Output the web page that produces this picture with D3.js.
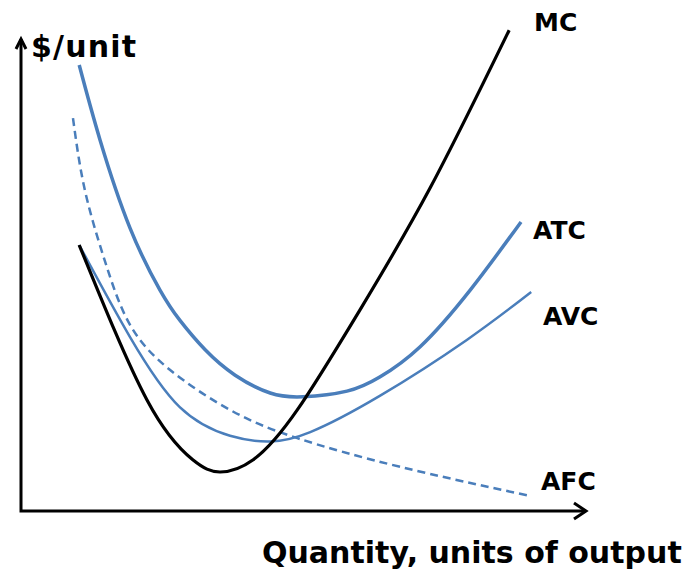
<!DOCTYPE html>
<html>
<head>
<meta charset="utf-8">
<script src="https://cdn.jsdelivr.net/npm/d3@7"></script>
<style>
  html, body { margin: 0; padding: 0; background: #fff; }
  svg { display: block; }
  text { font-family: "DejaVu Sans", Verdana, sans-serif; font-weight: bold; fill: #000; }
</style>
</head>
<body>
<svg id="chart"></svg>
<script>
// cost curves, [quantity, $/unit]
const mc = [[10.3,56.6],[22.3,23.6],[30.4,10.9],[35.2,8.3],[41.1,10.9],[48.9,21.5],[60.0,42.8],
  [72.4,68.7],[86.4,102.3]]
const atc = [[10.3,94.9],[14.0,78.9],[19.3,60.2],[24.6,47.0],[28.1,40.6],[32.6,34.3],[37.9,28.9],
  [44.1,25.1],[49.9,24.3],[57.7,25.5],[63.5,28.5],[70.6,34.9],[79.5,47.0],[88.5,61.5]]
const avc = [[10.3,56.6],[19.3,37.0],[28.1,22.1],[37.0,16.0],[44.1,14.8],[51.2,16.8],[63.5,24.5],
  [78.9,36.4],[90.3,46.6]]
const afc = [[9.2,83.6],[11.3,68.3],[14.9,53.0],[19.3,39.6],[26.4,30.0],[37.0,21.5],[48.9,15.5],
  [67.1,9.4],[90.1,3.2]]

const curveNames = ["MC", "ATC", "AVC", "AFC"]
const yTitle = "$/unit"
const xTitle = "Quantity, units of output"

const width = 684, height = 570
const blue = "#4a7ebb"

const svg = d3.select("#chart").attr("width", width).attr("height", height)

const x = d3.scaleLinear().domain([0, 100]).range([21, 586])
const y = d3.scaleLinear().domain([0, 100]).range([511, 41])

const line = d3.line()
  .x(d => x(d[0]))
  .y(d => y(d[1]))
  .curve(d3.curveNatural)

// axes with open arrow heads
const x0 = x(0), y0 = y(0), xEnd = x(100), yEnd = y(100) - 2
svg.append("path")
  .attr("d", `M${x0},${yEnd} L${x0},${y0} L${xEnd},${y0}`)
  .attr("fill", "none").attr("stroke", "#000").attr("stroke-width", 3)
svg.append("path")
  .attr("d", `M${x0 - 5},${yEnd + 10} L${x0},${yEnd} L${x0 + 5},${yEnd + 10}`)
  .attr("fill", "none").attr("stroke", "#000").attr("stroke-width", 3)
svg.append("path")
  .attr("d", `M${xEnd - 12},${y0 - 8} L${xEnd},${y0} L${xEnd - 12},${y0 + 8}`)
  .attr("fill", "none").attr("stroke", "#000").attr("stroke-width", 3)

svg.append("path").datum(afc)
  .attr("d", line).attr("fill", "none")
  .attr("stroke", blue).attr("stroke-width", 2.5).attr("stroke-dasharray", "8,5")

svg.append("path").datum(avc)
  .attr("d", line).attr("fill", "none")
  .attr("stroke", blue).attr("stroke-width", 2.5)

svg.append("path").datum(atc)
  .attr("d", line).attr("fill", "none")
  .attr("stroke", blue).attr("stroke-width", 3.5)

svg.append("path").datum(mc)
  .attr("d", line).attr("fill", "none")
  .attr("stroke", "#000").attr("stroke-width", 3.2)

// curve labels
const labelPos = [[534, 31], [533, 239], [543, 325], [541, 490]]
svg.selectAll(".lbl")
  .data(curveNames)
  .enter()
  .append("text")
  .attr("class", "lbl")
  .attr("x", (d, i) => labelPos[i][0])
  .attr("y", (d, i) => labelPos[i][1])
  .attr("font-size", 25)
  .text(d => d)

svg.append("text")
  .attr("x", 31).attr("y", 57)
  .attr("font-size", 30)
  .attr("letter-spacing", 1.2)
  .text(yTitle)

svg.append("text")
  .attr("x", 262).attr("y", 563)
  .attr("font-size", 30)
  .text(xTitle)
</script>
</body>
</html>
